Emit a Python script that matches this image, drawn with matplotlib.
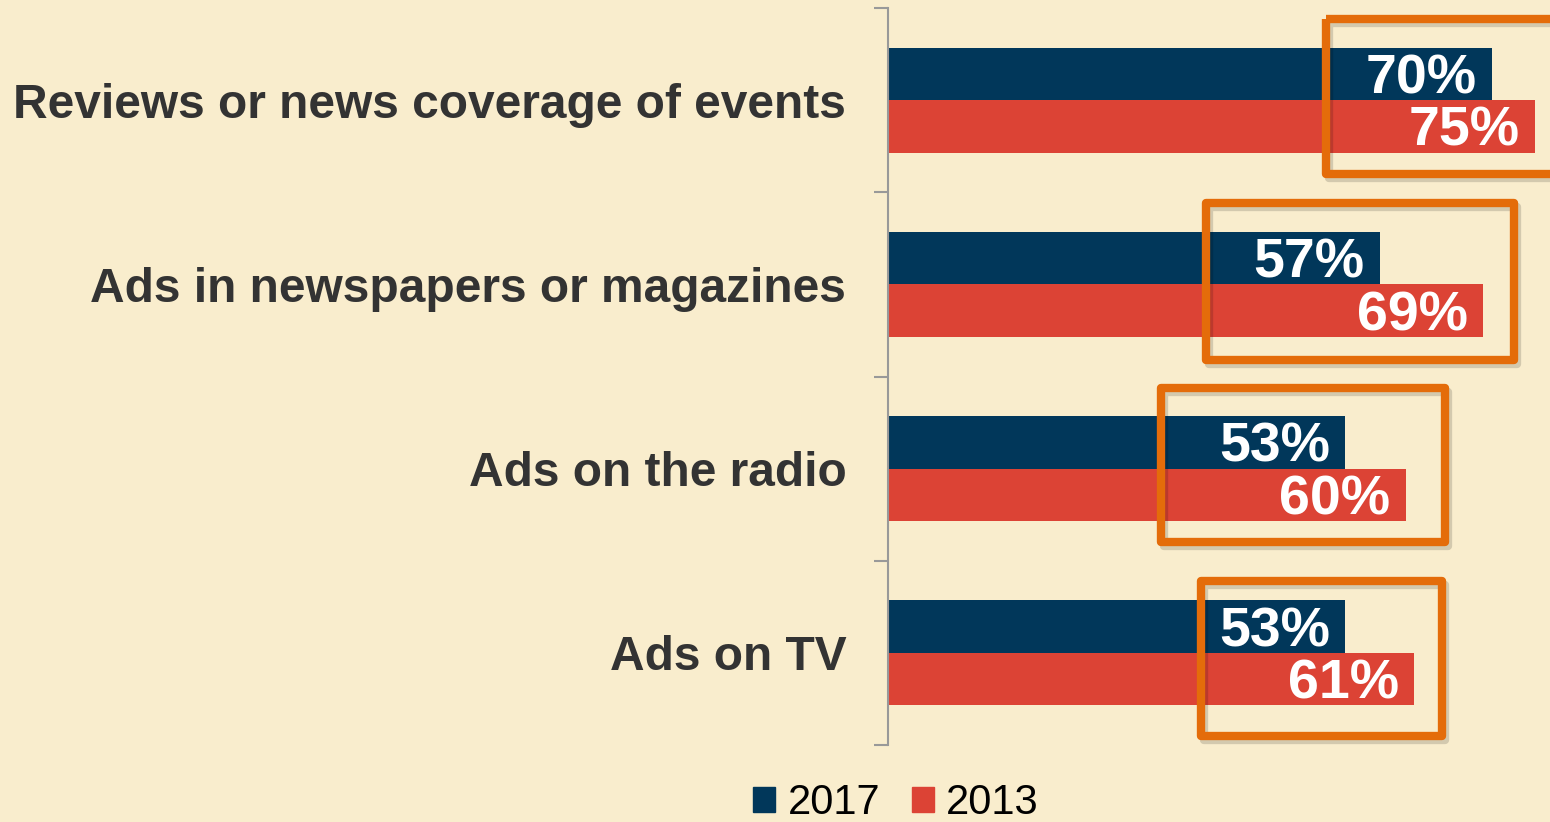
import matplotlib.pyplot as plt
from matplotlib.patches import Rectangle, Patch
from matplotlib.transforms import offset_copy

categories = ["Reviews or news coverage of events", "Ads in newspapers or magazines",
              "Ads on the radio", "Ads on TV"]
vals_2017 = [70, 57, 53, 53]
vals_2013 = [75, 69, 60, 61]
series = ["2017", "2013"]

# highlight boxes: (x0, x1, y0, y1) in data units
boxes = [(50.8, 77.3, -0.44, 0.40),
         (36.8, 72.5, 0.56, 1.41),
         (31.6, 64.6, 1.56, 2.40),
         (36.3, 64.2, 2.61, 3.45)]

bg = "#F9EDCD"
navy = "#01375A"
red = "#DC4335"
orange = "#E46C0A"

plt.rcParams['font.family'] = ['Liberation Sans', 'DejaVu Sans']

fig = plt.figure(figsize=(15.5, 8.22), dpi=100, facecolor=bg)
ax = fig.add_axes([888 / 1550, 1 - 745 / 822, 1 - 888 / 1550, (745 - 8) / 822])
ax.set_facecolor(bg)

h = 0.285
y = list(range(len(categories)))
ax.barh([i - h / 2 for i in y], vals_2017, height=h, color=navy)
ax.barh([i + h / 2 for i in y], vals_2013, height=h, color=red)

for i in y:
    ax.annotate(f"{vals_2017[i]}%", (vals_2017[i], i - h / 2), xytext=(-11, -14),
                textcoords="offset points", ha="right", va="baseline",
                color="white", fontsize=40, fontweight="bold")
    ax.annotate(f"{vals_2013[i]}%", (vals_2013[i], i + h / 2), xytext=(-11, -14),
                textcoords="offset points", ha="right", va="baseline",
                color="white", fontsize=40, fontweight="bold")

shadow_tr = offset_copy(ax.transData, fig=fig, x=3, y=-4, units="dots")
for x0, x1, y0, y1 in boxes:
    ax.add_patch(Rectangle((x0, y0), x1 - x0, y1 - y0, fill=False, lw=6,
                           ec="#000000", alpha=0.15, joinstyle="round",
                           transform=shadow_tr, clip_on=False))
    ax.add_patch(Rectangle((x0, y0), x1 - x0, y1 - y0, fill=False, lw=6,
                           ec=orange, joinstyle="round", clip_on=False))

ax.set_xlim(0, (1550 - 888) / 8.63)
ax.set_ylim(len(categories) - 0.5, -0.5)
ax.set_yticks(y)
ax.set_yticklabels(categories, fontsize=34.5, fontweight="bold", color="#333333")
ax.tick_params(axis="y", which="major", length=0, pad=30)
ax.set_yticks([i - 0.5 for i in range(len(categories) + 1)], minor=True)
ax.tick_params(axis="y", which="minor", length=10, width=1.5, color="#999999")
ax.set_xticks([])
for s in ["top", "right", "bottom"]:
    ax.spines[s].set_visible(False)
ax.spines["left"].set_color("#999999")
ax.spines["left"].set_linewidth(1.5)

handles = [Patch(color=navy, label=series[0]), Patch(color=red, label=series[1])]
fig.legend(handles=handles, loc="center", bbox_to_anchor=(896 / 1550, 1 - 803 / 822),
           ncol=2, frameon=False, fontsize=30, handlelength=0.53, handleheight=0.53,
           handletextpad=0.3, columnspacing=0.75)

fig.savefig("out.png", dpi=100, facecolor=bg)
